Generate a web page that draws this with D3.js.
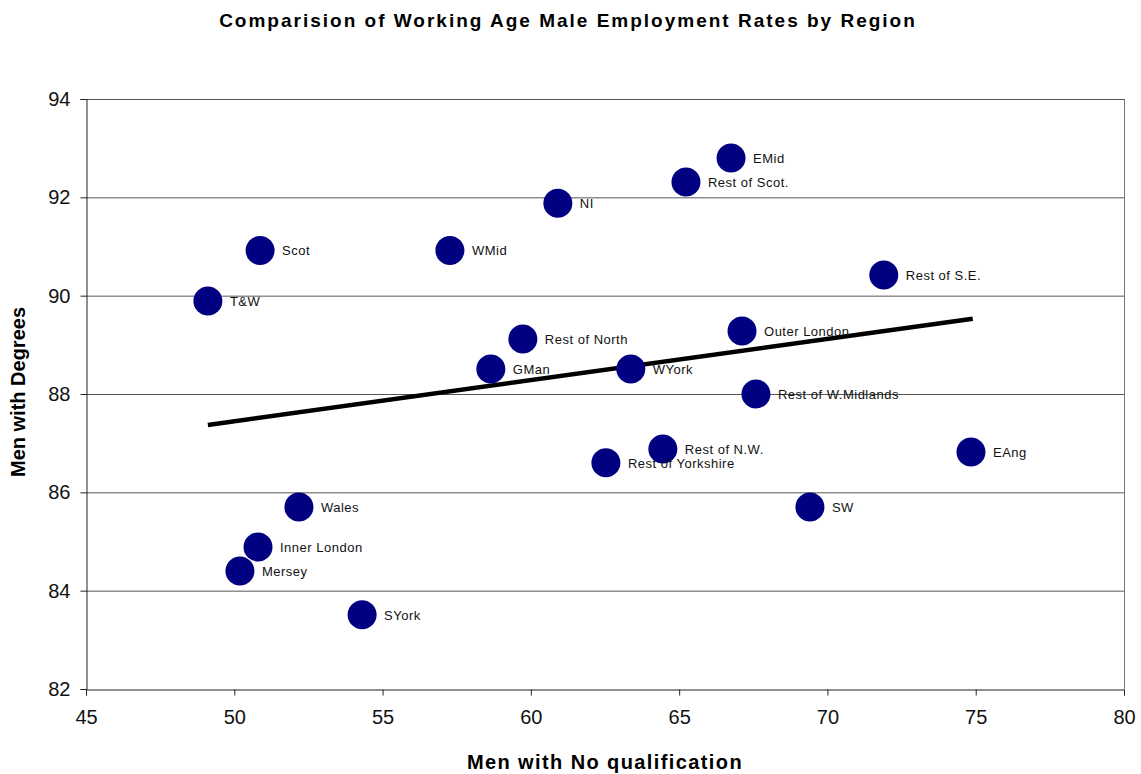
<!DOCTYPE html>
<html><head><meta charset="utf-8">
<script src="https://cdn.jsdelivr.net/npm/d3@7"></script>
<style>body{margin:0;background:#fff}svg{display:block}</style>
</head><body>
<svg id="chart" width="1141" height="774"></svg>
<script>
const regions = ["EMid","Rest of Scot.","NI","Scot","WMid","Rest of S.E.","T&W","Outer London","Rest of North","GMan","WYork","Rest of W.Midlands","Rest of N.W.","Rest of Yorkshire","EAng","SW","Wales","Inner London","Mersey","SYork"];
const noQual = [66.75,65.23,60.91,50.87,57.27,71.9,49.11,67.12,59.73,58.65,63.37,67.59,64.45,62.53,74.84,69.41,52.18,50.8,50.19,54.31];
const degrees = [92.8,92.31,91.88,90.92,90.92,90.42,89.89,89.28,89.12,88.51,88.51,88.0,86.88,86.6,86.82,85.7,85.7,84.89,84.4,83.51];
const trendX = [49.11, 74.9];
const trendY = [87.37, 89.53];
const xTicks = [45,50,55,60,65,70,75,80];
const yTicks = [82,84,86,88,90,92,94];

const svg = d3.select("#chart");
const L=86, R=1124, T=99, B=689;
const x = d3.scaleLinear().domain([45,80]).range([L,R]);
const y = d3.scaleLinear().domain([82,94]).range([B,T]);
const font = "Arial, 'Liberation Sans', sans-serif";

// gridlines
svg.append("g").selectAll("line").data(yTicks.slice(1)).join("line")
  .attr("x1",L).attr("x2",R).attr("y1",d=>y(d)+0.5).attr("y2",d=>y(d)+0.5)
  .attr("stroke","#555").attr("stroke-width",1);
// right border
svg.append("line").attr("x1",R+0.5).attr("x2",R+0.5).attr("y1",T).attr("y2",B).attr("stroke","#777");

// axes
const yAxis = d3.axisLeft(y).tickValues(yTicks).tickSize(6).tickPadding(10).tickFormat(d3.format("d"));
const xAxis = d3.axisBottom(x).tickValues(xTicks).tickSize(6).tickPadding(14).tickFormat(d3.format("d"));
const gy = svg.append("g").attr("transform",`translate(${L+0.5},0)`).call(yAxis);
const gx = svg.append("g").attr("transform",`translate(0,${B+0.5})`).call(xAxis);
[gx,gy].forEach(g=>{
  g.select(".domain").attr("stroke","#222");
  g.selectAll(".tick line").attr("stroke","#222");
  g.selectAll("text").attr("font-family",font).attr("font-size",20).attr("fill","#111");
});

// trend line
svg.append("line").attr("x1",x(trendX[0])).attr("y1",y(trendY[0])).attr("x2",x(trendX[1])).attr("y2",y(trendY[1]))
  .attr("stroke","#000").attr("stroke-width",4.5);

// points
const data = regions.map((r,i)=>({r, x:noQual[i], y:degrees[i]}));
svg.append("g").selectAll("circle").data(data).join("circle")
  .attr("cx",d=>x(d.x)).attr("cy",d=>y(d.y)).attr("r",14.5).attr("fill","#000080");
svg.append("g").selectAll("text").data(data).join("text")
  .attr("x",d=>x(d.x)+22).attr("y",d=>y(d.y)+5)
  .attr("font-family",font).attr("font-size",13).attr("letter-spacing","0.5").attr("fill","#111")
  .text(d=>d.r);

// titles
svg.append("text").attr("x",568).attr("y",27).attr("text-anchor","middle")
  .attr("font-family",font).attr("font-weight","bold").attr("font-size",19).attr("letter-spacing","2")
  .text("Comparision of Working Age Male Employment Rates by Region");
svg.append("text").attr("x",605).attr("y",769).attr("text-anchor","middle")
  .attr("font-family",font).attr("font-weight","bold").attr("font-size",20).attr("letter-spacing","1.4")
  .text("Men with No qualification");
svg.append("text").attr("transform","translate(25,392) rotate(-90)").attr("text-anchor","middle")
  .attr("font-family",font).attr("font-weight","bold").attr("font-size",20)
  .text("Men with Degrees");
</script>
</body></html>
